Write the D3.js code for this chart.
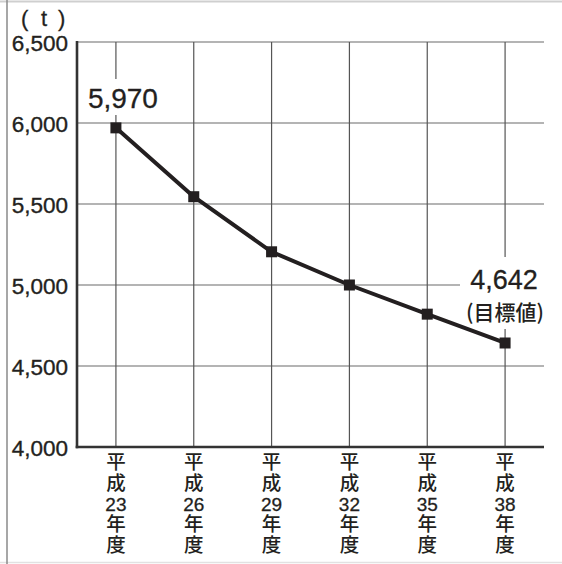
<!DOCTYPE html>
<html>
<head>
<meta charset="utf-8">
<script src="https://cdn.jsdelivr.net/npm/d3@7"></script>
<style>
  html, body { margin: 0; padding: 0; background: #fff; }
  svg { display: block; }
  text { paint-order: stroke; }
</style>
</head>
<body>
<script>
// Waste amount by fiscal year (Heisei era), in tonnes
const years = ["23", "26", "29", "32", "35", "38"];
const amounts = [5970, 5545, 5205, 5000, 4820, 4642];
const yTicks = [4000, 4500, 5000, 5500, 6000, 6500];
const unitLabel = "(t)";
const targetNote = "(目標値)";

const W = 562, H = 564;
const ink = "#231f20";
const latin = "'Liberation Sans', Arial, sans-serif";
const cjk = "'Noto Sans CJK JP', sans-serif";
const svg = d3.select("body").append("svg").attr("width", W).attr("height", H);

// outer frame
svg.append("line").attr("x1", 0).attr("x2", W).attr("y1", 1.5).attr("y2", 1.5)
  .attr("stroke", "#cfcfcf").attr("stroke-width", 2);
svg.append("line").attr("x1", 0).attr("x2", W).attr("y1", 562.5).attr("y2", 562.5)
  .attr("stroke", "#e2e2e2").attr("stroke-width", 1.5);
svg.append("line").attr("x1", 7).attr("x2", 7).attr("y1", 0).attr("y2", H)
  .attr("stroke", "#8a8a8a").attr("stroke-width", 1.5);

const plotL = 77, plotR = 544, plotT = 42, plotB = 447;

const x = d3.scalePoint().domain(years).range([plotL, plotR]).padding(0.5);
const y = d3.scaleLinear().domain([4000, 6500]).range([plotB, plotT]);

// horizontal grid
svg.append("g").selectAll("line").data(yTicks.filter(d => d > 4000)).join("line")
  .attr("x1", plotL).attr("x2", plotR)
  .attr("y1", d => y(d)).attr("y2", d => y(d))
  .attr("stroke", "#6a6a6a").attr("stroke-width", 1.2);

// vertical grid at each year
svg.append("g").selectAll("line").data(years).join("line")
  .attr("x1", d => x(d)).attr("x2", d => x(d))
  .attr("y1", plotT).attr("y2", plotB)
  .attr("stroke", "#555").attr("stroke-width", 1.2);

// y tick labels
svg.append("g").selectAll("text").data(yTicks).join("text")
  .attr("x", 68).attr("y", d => y(d) + 9)
  .attr("text-anchor", "end")
  .attr("font-family", latin)
  .attr("font-size", 22.5).attr("fill", ink)
  .attr("stroke", ink).attr("stroke-width", 0.35)
  .text(d3.format(","));

// unit label
svg.append("text")
  .attr("font-family", latin)
  .attr("font-size", 22).attr("fill", ink)
  .attr("stroke", ink).attr("stroke-width", 0.3)
  .attr("y", 26)
  .selectAll("tspan").data(unitLabel.split("")).join("tspan")
  .attr("x", (d, i) => [21, 41, 58][i])
  .text(d => d);

// axes
svg.append("line").attr("x1", plotL).attr("x2", plotL).attr("y1", plotT - 1).attr("y2", plotB + 1.2)
  .attr("stroke", "#333").attr("stroke-width", 2.6);
svg.append("line").attr("x1", plotL - 1.3).attr("x2", plotR).attr("y1", plotB).attr("y2", plotB)
  .attr("stroke", "#333").attr("stroke-width", 2.6);

// x labels stacked vertically: 平 / 成 / year / 年 / 度, one text per year
const rows = d => ["平", "成", d, "年", "度"];
svg.append("g").selectAll("text").data(years).join("text")
  .attr("transform", d => `translate(${x(d)},469)`)
  .attr("text-anchor", "middle")
  .attr("fill", ink)
  .selectAll("tspan").data(d => rows(d).map((t, i) => ({ t, i }))).join("tspan")
  .attr("x", 0)
  .attr("dy", d => d.i === 0 ? 0 : 20.8)
  .attr("font-family", d => d.i === 2 ? latin : cjk)
  .attr("font-size", d => d.i === 2 ? 19 : 19.5)
  .attr("font-weight", d => d.i === 2 ? 400 : 500)
  .attr("stroke", ink).attr("stroke-width", d => d.i === 2 ? 0.3 : 0)
  .text(d => d.t);

// value labels with white backing
const first = years[0], last = years[years.length - 1];
svg.append("rect").attr("x", x(first) - 30).attr("y", 79).attr("width", 72).attr("height", 36).attr("fill", "#fff");
svg.append("text")
  .attr("x", x(first) + 7).attr("y", 108)
  .attr("text-anchor", "middle")
  .attr("font-family", latin)
  .attr("font-size", 28).attr("fill", ink)
  .attr("stroke", ink).attr("stroke-width", 0.3)
  .text(d3.format(",")(amounts[0]));

svg.append("rect").attr("x", 460).attr("y", 257).attr("width", plotR - 460 + 2).attr("height", 72).attr("fill", "#fff");
svg.append("text")
  .attr("x", x(last) - 1).attr("y", 289)
  .attr("text-anchor", "middle")
  .attr("font-family", latin)
  .attr("font-size", 27).attr("fill", ink)
  .attr("stroke", ink).attr("stroke-width", 0.3)
  .text(d3.format(",")(amounts[amounts.length - 1]));
svg.append("text")
  .attr("x", x(last)).attr("y", 320)
  .attr("text-anchor", "middle")
  .attr("font-family", cjk)
  .attr("font-size", 21).attr("font-weight", 500).attr("fill", ink)
  .text(targetNote);

// trend line with square markers
const pts = years.map((d, i) => [x(d), y(amounts[i])]);
svg.append("path").attr("d", d3.line()(pts))
  .attr("fill", "none").attr("stroke", ink).attr("stroke-width", 4)
  .attr("stroke-linejoin", "round");

svg.append("g").selectAll("rect").data(pts).join("rect")
  .attr("x", d => d[0] - 5.5).attr("y", d => d[1] - 5.5)
  .attr("width", 11).attr("height", 11)
  .attr("fill", ink);
</script>
</body>
</html>
